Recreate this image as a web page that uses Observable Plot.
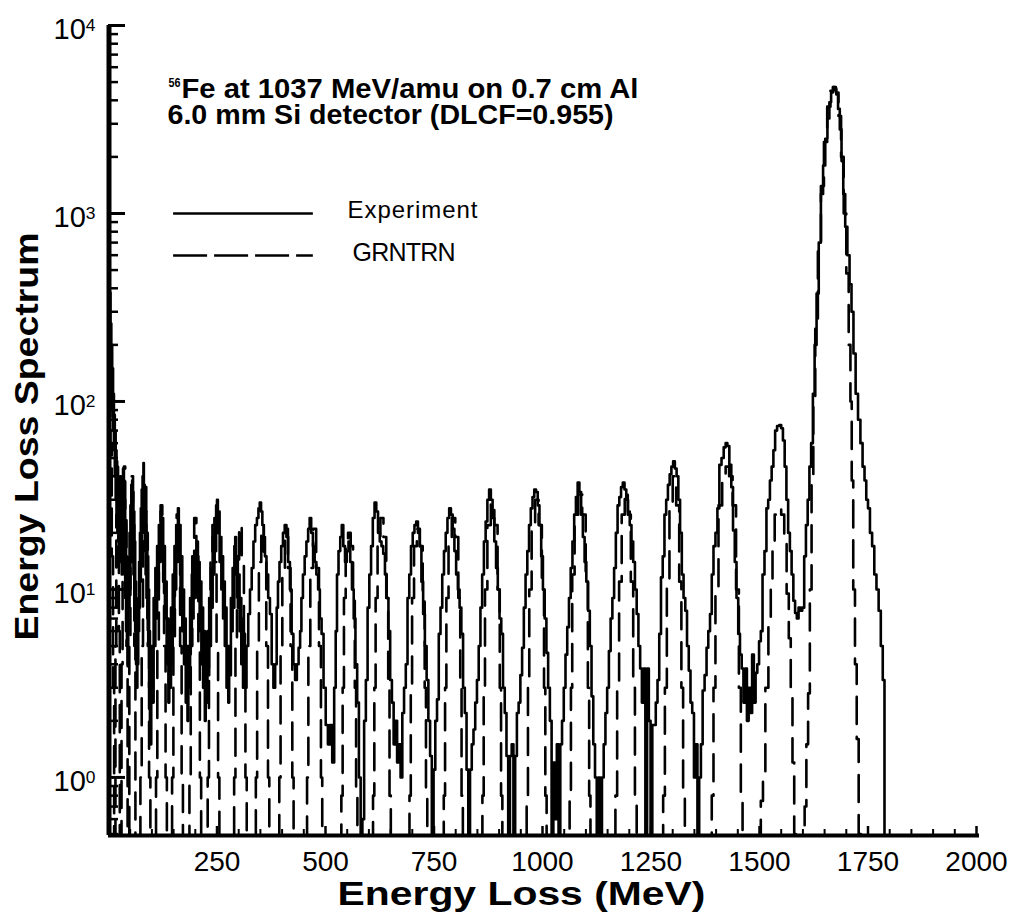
<!DOCTYPE html>
<html><head><meta charset="utf-8">
<script src="https://cdn.jsdelivr.net/npm/d3@7"></script>
<script src="https://cdn.jsdelivr.net/npm/@observablehq/plot@0.6"></script>
<style>
html,body{margin:0;padding:0;background:#fff;}
#chart{width:1016px;height:914px;overflow:hidden;}
</style></head><body><div id="chart"></div>
<script>
// ---- data ----
const seriesNames = ["Experiment", "GRNTRN"];
const titleIsotope = "56";
const titleLines = ["Fe at 1037 MeV/amu on 0.7 cm Al", "6.0 mm Si detector (DLCF=0.955)"];
const xLabel = "Energy Loss (MeV)";
const yLabel = "Energy Loss Spectrum";
const xTickLabels = [250, 500, 750, 1000, 1250, 1500, 1750, 2000];
const xMinorTicks = [50,100,150,200,300,350,400,450,550,600,650,700,800,850,900,950,1050,1100,1150,1200,1300,1350,1400,1450,1550,1600,1650,1700,1800,1850,1900,1950];
const yTickLabels = [1, 10, 100, 1000, 10000];
const yMinorTicks = [0.5,0.6,0.7,0.8,0.9,2,3,4,5,6,7,8,9,20,30,40,50,60,70,80,90,200,300,400,500,600,700,800,900,2000,3000,4000,5000,6000,7000,8000,9000];
const yDomain = [0.491, 10000];
const xDomain = [0, 2000];
const legendY = [1000, 598];
const legendX = [150, 472];

// Experiment: [energy loss MeV, counts]
const experiment = [
[0,400],[1,250],[2,450],[3,200],[4,380],[5,150],[6,260],[7,120],[8,200],[9,90],[10,150],[11,70],[12,110],[13,55],[14,85],[15,40],[16,70],[17,30],[18,55],[19,25],[20,45],[21,20],[22,40],[23,18],[24,38],[25,15],[26,36],[27,14],[28,40],[29,16],[30,34],[31,12],[32,40],[33,18],[34,44],[35,20],[36,38],[37,12],[38,30],[39,9],[40,22],[41,6],[42,15],[43,5],[44,12],[45,4],[46,14],
[48,8],[49,20],[50,10],[51,28],[52,14],[53,36],[54,20],[55,38],[56,16],[57,33],[58,12],[59,26],[60,9],[61,18],[62,6],[63,11],[64,4],[65,8],[66,3],[67,6],[68,4],[69,9],
[70,6],[71,14],[72,8],[73,20],[74,11],[75,27],[76,15],[77,34],[78,20],[79,40],[80,24],[81,47],[82,22],[83,36],[84,16],[85,30],[86,12],[87,26],[88,9],[89,18],[90,7],[91,15],[92,5],[93,10],[94,3],[95,6],[96,2],[97,4],[98,1.5],[99,3],
[101,5],[103,2.5],[105,9],[107,5],[109,13],[111,7],[113,17],[115,10],[117,22],[119,14],[121,26],[123,16],[125,24],[127,11],[129,17],[131,7],[133,11],[135,4],[137,7],[139,2.5],[141,5],
[143,3],[145,8],[147,4],[149,12],[151,7],[153,17],[155,10],[157,22],[159,14],[161,27],[163,15],[165,22],[167,10],[169,15],[171,6],[173,10],[175,4],[177,7],[179,2.5],[181,5],[183,2],
[185,5],[187,3],[189,9],[191,5],[193,12],[195,7],[197,15],[199,9],[201,16],[203,10],[205,18],[207,9],[209,14],[211,6],[213,11],[215,4],[217,8],[219,3],[221,6],[223,2],[225,4],
[227,2.5],[229,6],[231,3.5],[233,9],[235,5],[237,13],[239,8],[241,19],[243,12],[245,24],[247,16],[249,28],[251,30],[253,20],[255,26],[257,14],[259,19],[261,10],[263,15],[265,7],[267,11],[269,5],[271,8],[273,3],[275,5],[277,2.5],
[279,5],[281,3.5],[283,9],[285,6],[287,13],[289,8],[291,17],[293,19],[295,12],[297,15],[299,8],[301,12],[303,6],[305,9],[307,4],[309,7],[311,3],[313,5.8],
[316,3],[320,5],[324,7.4],[328,10],[332,13],[336,18],[340,22],[344,24],[347,27],[350,29],[353,26],[356,22],[359,19],[362,15],[366,12],[370,9],[374,7.4],[378,4],[382,3],
[386,4],[389,8],[392,11],[396,14],[400,17],[404,20],[408,22],[412,19],[416,14],[420,10],[424,5.8],[428,4],[432,3.3],[436,4],
[440,4.9],[443,6],[446,9],[450,12],[454,15],[458,18],[462,21],[465,24],[469,20],[473,17],[477,14],[481,12],[485,10],[489,7],[493,5.8],[498,3],[503,1.9],[508,1.5],[513,1.9],[518,1.2],
[522,3],[525,6],[528,12],[532,16],[536,19],[539,22],[543,17],[547,14],[551,16],[555,18],[559,14],[563,10],[567,7],[571,4],[575,2.5],[579,1],[583,0.3],[587,0.6],
[591,2],[595,3.3],[599,8],[603,12],[607,17],[611,24],[615,29],[619,26],[623,20],[627,18],[631,17],[635,15.5],[639,12],[643,9],[647,6],[651,3.3],[655,2.5],[659,1.5],[663,2],[667,1.2],[671,1.5],[675,1],
[679,2.2],[683,3],[687,4],[691,9],[695,12],[699,17],[703,20],[707,22],[711,23],[715,20],[719,17],[723,11],[727,7.4],[731,5],[735,3.3],[739,2],[743,1.3],[747,0.3],[751,1.1],
[755,2],[759,2.6],[763,5.8],[767,8],[771,12],[775,16],[779,20],[783,24],[787,27],[791,25],[795,21],[799,16],[803,12],[807,10],[811,8],[815,5.8],[819,3],[823,2.2],[827,1.1],[831,0.3],[835,1.1],[839,1.5],
[843,1.8],[847,2.5],[851,3.3],[855,5],[859,8],[863,12],[867,18],[871,23],[875,30],[879,34],[883,30],[887,24],[891,18],[895,13],[899,10],[903,7],[907,5.8],[911,3],[915,2.2],[919,1.3],[923,0.3],[927,1.3],[931,1.5],[935,0.3],[939,1.3],
[943,2.2],[947,2.5],[951,3.5],[955,4.9],[959,8],[963,12],[967,16],[971,22],[975,27],[979,31],[983,34],[987,33],[991,28],[995,22],[999,15],[1003,10],[1007,7],[1011,4.6],[1015,3],[1019,2],[1023,0.3],[1027,1.2],[1031,0.6],[1035,1.5],[1039,0.3],[1043,1.5],
[1047,2],[1051,3],[1055,4.5],[1059,6.3],[1063,9],[1067,13],[1071,18],[1075,25],[1079,31],[1083,37],[1087,33],[1091,25],[1095,19],[1099,14],[1103,11],[1107,7.7],[1111,5],[1115,2.7],[1119,1.5],[1123,1],[1127,0.3],[1131,1],[1135,0.3],[1139,1],
[1143,1.5],[1147,2.2],[1151,3],[1155,4.7],[1159,7],[1163,9],[1167,13],[1171,20],[1175,28],[1179,31],[1183,35],[1187,37],[1191,34],[1195,30],[1199,26],[1203,22],[1207,18],[1211,14],[1215,10],[1219,7.4],[1223,5],[1227,3.8],[1231,2.5],[1235,3.8],[1239,0.3],[1243,3.8],[1247,2],[1251,0.3],[1255,1.9],
[1259,1.9],[1263,2.5],[1267,3.3],[1271,5.8],[1275,11.6],[1279,15],[1283,25],[1287,30],[1291,36],[1295,41],[1299,45],[1303,48],[1307,44],[1311,40],[1315,30],[1319,20],[1323,12],[1327,9],[1331,7.7],[1335,5],[1339,3.7],[1343,2.5],[1347,2.2],[1351,1],[1355,1.5],[1359,0.3],[1363,1],
[1367,1.5],[1371,2.9],[1376,3.5],[1380,4.9],[1384,6],[1388,7.4],[1392,12],[1396,17],[1401,20],[1405,27],[1410,46],[1415,50],[1420,57],[1424,60],[1428,58],[1433,46],[1437,35],[1441,20.6],[1445,14],[1449,9],[1453,5.8],[1457,4.5],[1461,3.8],[1465,2.5],[1469,3.8],[1473,2],[1477,3],[1481,2.2],[1485,4.5],[1489,2.5],[1493,3.6],
[1497,4],[1501,5.3],[1505,6],[1509,12],[1514,16],[1518,27],[1522,30],[1526,38],[1530,45],[1534,55],[1538,70],[1543,74],[1548,75],[1552,72],[1556,62],[1560,45],[1564,30],[1568,20],[1572,16],[1576,12],[1580,8.7],[1584,7.5],[1588,7],[1592,8],[1596,7.7],
[1601,8],[1605,15],[1609,22],[1613,30],[1617,45],[1621,60],[1625,110],[1629,200],[1634,375],[1639,700],[1644,1270],[1649,1800],[1654,2500],[1659,3200],[1663,3900],[1667,4400],[1671,4700],[1675,4600],[1679,4300],[1683,3600],[1687,2800],[1691,1900],[1695,1270],[1700,850],[1705,600],[1710,420],[1714,300],[1719,180],[1724,110],[1730,80],[1735,60],[1740,45],[1744,38],[1748,30],[1752,27],[1757,20],[1762,17],[1767,12],[1772,10],[1777,7.7],[1782,5],[1786,3.3],[1790,0.3],[1800,0.3]
];

// GRNTRN calculation: [energy loss MeV, counts]
const grntrn = [
[0,300],[3,150],[6,60],[9,15],[12,3],[14,0.3],
[15,0.3],[17,5],[19,25],[21,50],[23,30],[25,6],[27,0.5],
[29,0.3],[31,4],[34,20],[37,45],[40,25],[43,5],[45,0.3],
[47,0.3],[49,5],[52,18],[55,40],[58,22],[61,5],[63,0.3],
[72,0.3],[75,1],[78,5],[81,18],[85,35],[89,20],[92,5],[95,1],[98,0.3],
[108,0.3],[111,1],[114,5],[118,15],[122,28],[126,16],[130,5],[133,1],[136,0.3],
[145,0.3],[148,1],[151,5],[155,15],[159,25],[163,15],[167,5],[170,1],[173,0.3],
[185,0.3],[188,1],[191,5],[195,15],[200,24],[205,15],[209,5],[212,1],[215,0.3],
[227,0.3],[230,1],[233,5],[237,14],[242,22],[247,14],[251,5],[254,1],[257,0.3],
[288,0.3],[291,1],[294,5],[298,14],[304,22],[310,14],[314,5],[317,1],[320,0.3],
[338,0.3],[341,1],[344,5],[349,14],[355,22],[361,14],[366,5],[369,1],[372,0.3],
[392,0.3],[395,1],[398,5],[403,13],[410,21],[417,13],[422,5],[425,1],[428,0.3],
[456,0.3],[459,1],[462,5],[468,13],[475,21],[482,13],[488,5],[491,1],[494,0.3],
[535,0.3],[538,0.8],[541,3],[544,9],[549,17],[555,20],[561,17],[566,9],[569,3],[572,0.8],[575,0.3],
[608,0.3],[611,0.8],[614,3],[617,9],[623,19],[630,24],[637,19],[643,9],[646,3],[649,0.8],[652,0.3],
[692,0.3],[695,0.8],[698,3],[701,9],[707,17],[714,21],[721,17],[727,9],[730,3],[733,0.8],[736,0.3],
[771,0.3],[774,0.8],[777,3],[780,9],[787,19],[795,24],[803,19],[809,9],[812,3],[815,0.8],[818,0.3],
[860,0.3],[863,0.8],[866,3],[869,10],[877,22],[885,29],[893,22],[900,10],[903,3],[906,0.8],[909,0.3],
[962,0.3],[965,0.8],[968,3],[971,10],[979,22],[987,30],[995,22],[1002,10],[1005,3],[1008,0.8],[1011,0.3],
[1061,0.3],[1064,0.8],[1067,3],[1070,12],[1078,25],[1087,32],[1096,25],[1103,12],[1106,3],[1109,0.8],[1112,0.3],
[1166,0.3],[1170,0.8],[1174,3],[1179,11],[1186,25],[1193,33],[1200,25],[1207,11],[1211,3],[1215,0.8],[1219,0.3],
[1276,0.3],[1280,0.8],[1284,3],[1289,11],[1296,28],[1304,40],[1312,28],[1318,11],[1322,3],[1326,0.8],[1330,0.3],
[1388,0.3],[1392,0.8],[1396,3],[1401,10],[1410,28],[1418,40],[1426,45],[1434,40],[1442,28],[1450,10],[1455,3],[1459,0.8],[1463,0.3],
[1500,0.3],[1506,0.75],[1510,1.05],[1517,3],[1524,6.6],[1528,11],[1532,18],[1538,25],[1546,27],[1554,25],[1560,18],[1565,9.5],[1570,5.5],[1574,3],[1578,1.2],[1582,0.5],[1585,0.3],
[1602,0.3],[1606,0.7],[1610,1.5],[1614,2.8],[1618,10],[1622,40],[1626,100],[1631,250],[1638,700],[1645,1400],[1652,2400],[1660,3700],[1667,4500],[1673,4700],[1679,4400],[1685,3300],[1691,2000],[1697,1000],[1703,480],[1708,200],[1711,100],[1714,38],[1718,10],[1722,4],[1726,1.6],[1731,0.5],[1736,0.3]
];

// ---- chart ----
const W = 1016, H = 914;
const mL = 108, mR = 40, mT = 25, mB = 79;
const fw = W - mL - mR, fh = H - mT - mB;
const sans = "Liberation Sans, Arial, Helvetica, sans-serif";
const narrow = "Liberation Sans Narrow, Arial Narrow, Liberation Sans, Arial, sans-serif";

const svg = Plot.plot({
  width: W, height: H,
  marginLeft: mL, marginRight: mR, marginTop: mT, marginBottom: mB,
  style: {background: "#fff", color: "#000", fontFamily: sans},
  x: {domain: xDomain},
  y: {type: "log", domain: yDomain},
  marks: [
    Plot.line(grntrn, {x: d => d[0], y: d => d[1], curve: "step", stroke: "#000", strokeWidth: 2.6, strokeDasharray: "27,13", clip: true}),
    Plot.line(experiment, {x: d => d[0], y: d => d[1], curve: "step", stroke: "#000", strokeWidth: 2.6, clip: true}),
    // axis lines
    Plot.ruleX([xDomain[0]], {stroke: "#000", strokeWidth: 5, dx: 0.5}),
    Plot.ruleY([yDomain[0]], {stroke: "#000", strokeWidth: 4, insetRight: -3}),
    // inward ticks
    Plot.tickY(yTickLabels, {y: d => d, insetRight: fw - 17, stroke: "#000", strokeWidth: 3}),
    Plot.tickY(yMinorTicks, {y: d => d, insetRight: fw - 10, stroke: "#000", strokeWidth: 2.5}),
    Plot.tickX(xTickLabels, {x: d => d, insetTop: fh - 9, stroke: "#000", strokeWidth: 2.5}),
    Plot.tickX(xMinorTicks, {x: d => d, insetTop: fh - 6, stroke: "#000", strokeWidth: 2}),
    // tick labels
    Plot.axisX({ticks: xTickLabels, tickSize: 0, tickPadding: 16, fontSize: 28, tickFormat: d => String(d), label: null}),
    Plot.axisY({ticks: yTickLabels, tickSize: 0, tickPadding: 13, fontSize: 29, tickFormat: d => "10^" + Math.round(Math.log10(d)), label: null, dy: 4}),
    // legend
    Plot.ruleY([legendY[0]], {x1: legendX[0], x2: legendX[1], stroke: "#000", strokeWidth: 2.4}),
    Plot.ruleY([legendY[1]], {x1: legendX[0], x2: legendX[1], stroke: "#000", strokeWidth: 2.4, strokeDasharray: "34,7"}),
    Plot.text([seriesNames[0]], {frameAnchor: "top-left", dx: 239, dy: 175, textAnchor: "start", lineAnchor: "top", fontSize: 24, fill: "#000"}),
    Plot.text([seriesNames[1]], {frameAnchor: "top-left", dx: 244, dy: 218, textAnchor: "start", lineAnchor: "top", fontSize: 25, fill: "#000"}),
    // title
    Plot.text([titleIsotope], {frameAnchor: "top-left", dx: 60, dy: 53, textAnchor: "start", lineAnchor: "top", fontSize: 12, fontWeight: "bold", fontFamily: narrow, fill: "#000"}),
    Plot.text([titleLines[0]], {frameAnchor: "top-left", dx: 73, dy: 53, textAnchor: "start", lineAnchor: "top", fontSize: 28, fontWeight: "bold", fontFamily: narrow, fill: "#000"}),
    Plot.text([titleLines[1]], {frameAnchor: "top-left", dx: 59, dy: 79, textAnchor: "start", lineAnchor: "top", fontSize: 28, fontWeight: "bold", fontFamily: narrow, fill: "#000"}),
    // axis titles
    Plot.text([xLabel], {frameAnchor: "bottom", dx: -21, dy: 59, textAnchor: "middle", lineAnchor: "middle", fontSize: 33, fontWeight: "bold", fill: "#000"}),
    Plot.text([yLabel], {frameAnchor: "left", dx: -81, dy: 6, rotate: -90, textAnchor: "middle", lineAnchor: "middle", fontSize: 33, fontWeight: "bold", fill: "#000"})
  ]
});

// superscript exponents on y tick labels
d3.select(svg).selectAll('g[aria-label="y-axis tick label"] text').each(function () {
  const t = d3.select(this);
  const parts = t.text().split("^");
  if (parts.length === 2) {
    t.text(parts[0]);
    t.append("tspan").attr("dy", "-0.42em").attr("font-size", "0.6em").text(parts[1]);
  }
});

// fit text widths to the reference
const fits = new Map([
  [titleIsotope, [12, "spacingAndGlyphs"]],
  [titleLines[0], [457, "spacingAndGlyphs"]],
  [titleLines[1], [446, "spacingAndGlyphs"]],
  [seriesNames[0], [130, "spacing"]],
  [seriesNames[1], [103, "spacing"]],
  [xLabel, [368, "spacingAndGlyphs"]],
  [yLabel, [408, "spacingAndGlyphs"]]
]);
d3.select(svg).selectAll("text").each(function () {
  const k = this.textContent;
  if (fits.has(k) && this.childElementCount === 0) {
    const [len, adj] = fits.get(k);
    this.setAttribute("textLength", len);
    this.setAttribute("lengthAdjust", adj);
  }
});

document.getElementById("chart").appendChild(svg);
</script>
</body></html>
